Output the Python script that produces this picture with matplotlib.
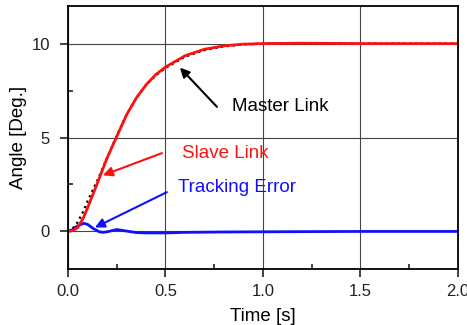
import numpy as np
import matplotlib.pyplot as plt
from matplotlib.ticker import MultipleLocator

plt.rcParams['font.family'] = ['Liberation Sans', 'DejaVu Sans']

# master link (dotted black)
t_master = [0, 0.02, 0.05, 0.08, 0.1, 0.15, 0.2, 0.25, 0.3, 0.35, 0.4, 0.45, 0.5,
            0.6, 0.7, 0.8, 0.9, 1.0, 1.2, 1.5, 2.0]
master = [0, 0.1, 0.5, 1.1, 1.6, 2.7, 3.9, 5.1, 6.2, 7.1, 7.8, 8.3, 8.7,
          9.3, 9.65, 9.85, 9.95, 10.0, 10.0, 10.0, 10.0]

# slave link (red)
t_slave = [0, 0.02, 0.05, 0.08, 0.1, 0.15, 0.2, 0.25, 0.3, 0.35, 0.4, 0.45, 0.5,
           0.6, 0.7, 0.8, 0.9, 1.0, 1.2, 1.5, 2.0]
slave = [0, 0.03, 0.2, 0.75, 1.25, 2.55, 3.9, 5.05, 6.2, 7.1, 7.8, 8.35, 8.75,
         9.35, 9.7, 9.88, 9.97, 10.0, 10.02, 10.0, 10.0]

# tracking error (blue)
t_err = [0, 0.02, 0.05, 0.08, 0.1, 0.13, 0.16, 0.18, 0.2, 0.25, 0.3, 0.35, 0.4,
         0.5, 0.6, 0.8, 1.0, 1.5, 2.0]
err = [0, 0.08, 0.3, 0.43, 0.38, 0.15, -0.02, -0.05, -0.02, 0.1, 0.02, -0.06, -0.08,
       -0.08, -0.05, -0.03, -0.02, 0.0, 0.0]

fig = plt.figure(figsize=(4.67, 3.25), dpi=100)
ax = fig.add_axes([0.1456, 0.1723, 0.8351, 0.8092])

ax.grid(True, color='#444444', lw=0.8)
ax.plot(t_err, err, color='#1010ff', lw=2)
ax.plot(t_master, master, color='black', lw=1.6, ls=':')
ax.plot(t_slave, slave, color='#ff1010', lw=2)

ax.set_xlim(0, 2)
ax.set_ylim(-2, 12)
ax.xaxis.set_major_locator(MultipleLocator(0.5))
ax.xaxis.set_minor_locator(MultipleLocator(0.25))
ax.yaxis.set_major_locator(MultipleLocator(5))
ax.yaxis.set_minor_locator(MultipleLocator(2.5))
ax.tick_params(which='both', labelsize=12, width=1.2, colors='#222222')
ax.tick_params(which='major', direction='out', length=6, pad=5)
ax.tick_params(which='minor', direction='in', length=3.5)
ax.tick_params(axis='y', which='major', pad=7)
for s in ax.spines.values():
    s.set_linewidth(1.3)

ax.set_xlabel('Time [s]', fontsize=13.5, labelpad=6)
ax.set_ylabel('Angle [Deg.]', fontsize=13.5, labelpad=3)

ap = dict(arrowstyle='-|>', lw=1.5, mutation_scale=14, shrinkA=0, shrinkB=0)
ax.annotate('', xy=(0.574, 8.72), xytext=(0.764, 6.63), arrowprops=dict(ap, color='black'))
ax.text(0.841, 6.63, 'Master Link', fontsize=13.5, va='center', ha='left')
ax.annotate('', xy=(0.179, 2.99), xytext=(0.482, 4.17), arrowprops=dict(ap, color='#ff1010'))
ax.text(0.584, 4.17, 'Slave Link', fontsize=13.5, va='center', ha='left', color='#ff1010')
ax.annotate('', xy=(0.138, 0.21), xytext=(0.507, 2.09), arrowprops=dict(ap, color='#1010ff'))
ax.text(0.564, 2.35, 'Tracking Error', fontsize=13.5, va='center', ha='left', color='#1010ff')

fig.savefig('out.png', dpi=100)
